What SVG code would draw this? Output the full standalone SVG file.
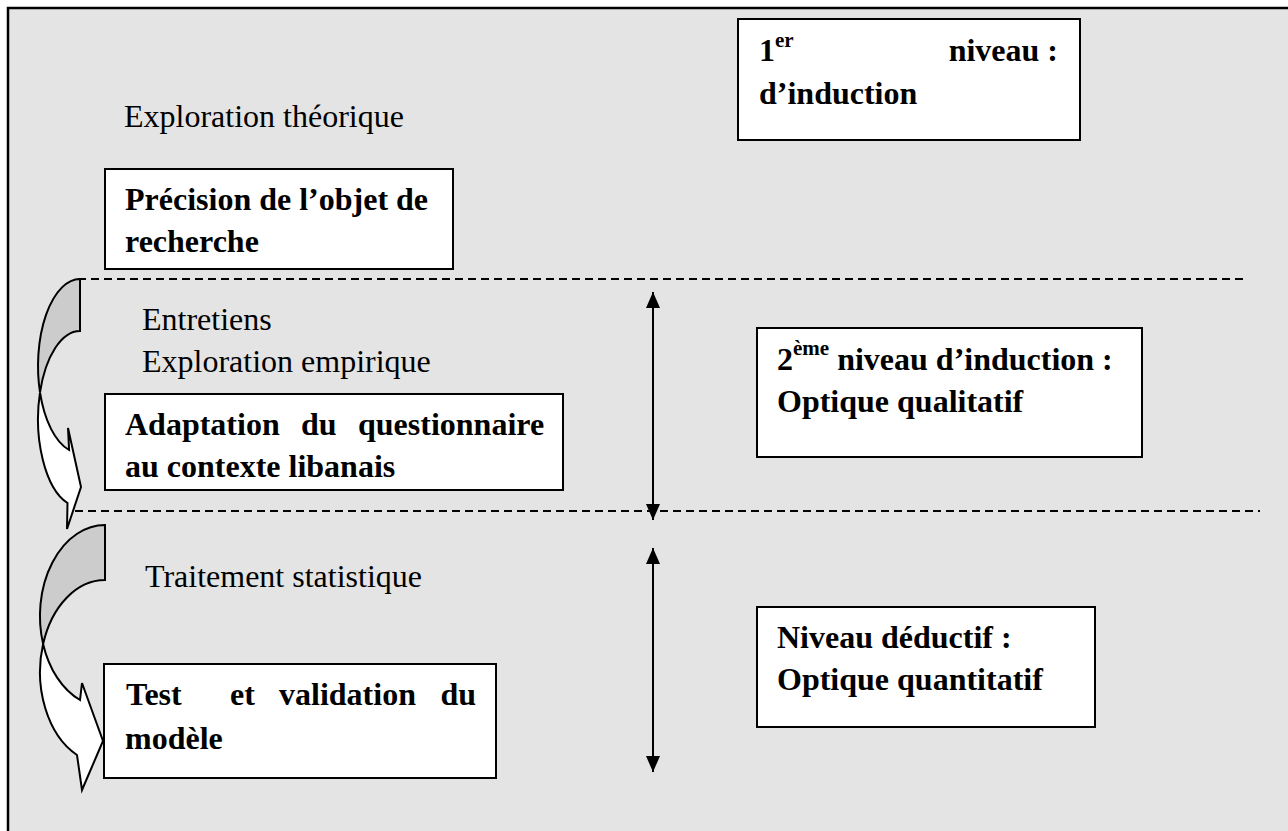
<svg xmlns="http://www.w3.org/2000/svg" width="1288" height="831" viewBox="0 0 1288 831">
<style>
  .box { fill: #ffffff; stroke: #000000; stroke-width: 2; }
  .t { font-family: "Liberation Serif", "Times New Roman", serif; font-size: 32px; fill: #000000; }
  .b { font-weight: bold; }
  .sup { font-size: 21px; }
  .dash { stroke: #000000; stroke-width: 2; stroke-dasharray: 8 5; fill: none; }
  .vline { stroke: #000000; stroke-width: 2; fill: none; marker-start: url(#ah); marker-end: url(#ah); }
  .rib-back { fill: #cccccc; stroke: #000000; stroke-width: 2; stroke-linejoin: miter; }
  .rib-front { fill: #ffffff; stroke: #000000; stroke-width: 2; stroke-linejoin: miter; }
</style>
<defs>
  <marker id="ah" viewBox="0 0 16 14" refX="16" refY="7" markerWidth="16" markerHeight="14" markerUnits="userSpaceOnUse" orient="auto-start-reverse">
    <path d="M0,0 L16,7 L0,14 Z" fill="#000000"/>
  </marker>
</defs>
<rect x="0" y="0" width="1288" height="831" fill="#ffffff"/>
<rect x="8" y="8" width="1300" height="840" fill="#e4e4e4" stroke="#000000" stroke-width="2.5"/>

<g id="connectors">
  <line class="dash" x1="78" y1="279" x2="1246" y2="279"/>
  <line class="dash" x1="75" y1="511" x2="1260" y2="511"/>
  <line class="vline" x1="653" y1="292" x2="653" y2="520"/>
  <line class="vline" x1="653" y1="548" x2="653" y2="772"/>
  <g id="curved-arrow-1">
    <path class="rib-back" d="M80,279 A42,87 0 0 0 40,392.4 A42,88 0 0 1 80,331 Z"/>
    <path class="rib-front" d="M40,392.4 A42,87 0 0 0 69.1,450 L68,428 L81,487 L67,529 L67.5,503 A42,88 0 0 1 40,392.4 Z"/>
  </g>
  <g id="curved-arrow-2">
    <path class="rib-back" d="M105,525 A65,91 0 0 0 43.1,644 A65,92 0 0 1 105,580 Z"/>
    <path class="rib-front" d="M43.1,644 A65,91 0 0 0 80,700 L82,683 L103,741 L82,790 L77,755 A65,92 0 0 1 43.1,644 Z"/>
  </g>
</g>

<g id="label-exploration-theorique">
  <text class="t" x="124" y="127">Exploration théorique</text>
</g>

<g id="node-precision">
  <rect class="box" x="105" y="169" width="348" height="100"/>
  <text class="t b" x="125" y="210">Précision de l’objet de</text>
  <text class="t b" x="125" y="252">recherche</text>
</g>

<g id="node-niveau1">
  <rect class="box" x="738" y="19" width="342" height="121"/>
  <text class="t b" x="759" y="61">1<tspan class="sup" dy="-14">er</tspan></text>
  <text class="t b" x="1058" y="61" text-anchor="end">niveau :</text>
  <text class="t b" x="759" y="104">d’induction</text>
</g>

<g id="label-entretiens">
  <text class="t" x="142" y="330">Entretiens</text>
  <text class="t" x="142" y="372">Exploration empirique</text>
</g>

<g id="node-adaptation">
  <rect class="box" x="105" y="394" width="458" height="96"/>
  <text class="t b" x="125" y="435">Adaptation</text>
  <text class="t b" x="301" y="435">du</text>
  <text class="t b" x="358" y="435">questionnaire</text>
  <text class="t b" x="125" y="477">au contexte libanais</text>
</g>

<g id="node-niveau2">
  <rect class="box" x="757" y="328" width="385" height="129"/>
  <text class="t b" x="777" y="370">2<tspan class="sup" dy="-15">ème</tspan><tspan dy="15"> niveau d’induction :</tspan></text>
  <text class="t b" x="777" y="412">Optique qualitatif</text>
</g>

<g id="label-traitement">
  <text class="t" x="145" y="587">Traitement statistique</text>
</g>

<g id="node-niveau-deductif">
  <rect class="box" x="757" y="607" width="338" height="120"/>
  <text class="t b" x="777" y="648">Niveau déductif :</text>
  <text class="t b" x="777" y="690">Optique quantitatif</text>
</g>

<g id="node-test">
  <rect class="box" x="104" y="664" width="392" height="114"/>
  <text class="t b" x="126" y="705">Test</text>
  <text class="t b" x="230" y="705">et</text>
  <text class="t b" x="279" y="705">validation</text>
  <text class="t b" x="476" y="705" text-anchor="end">du</text>
  <text class="t b" x="125" y="749">modèle</text>
</g>
</svg>
